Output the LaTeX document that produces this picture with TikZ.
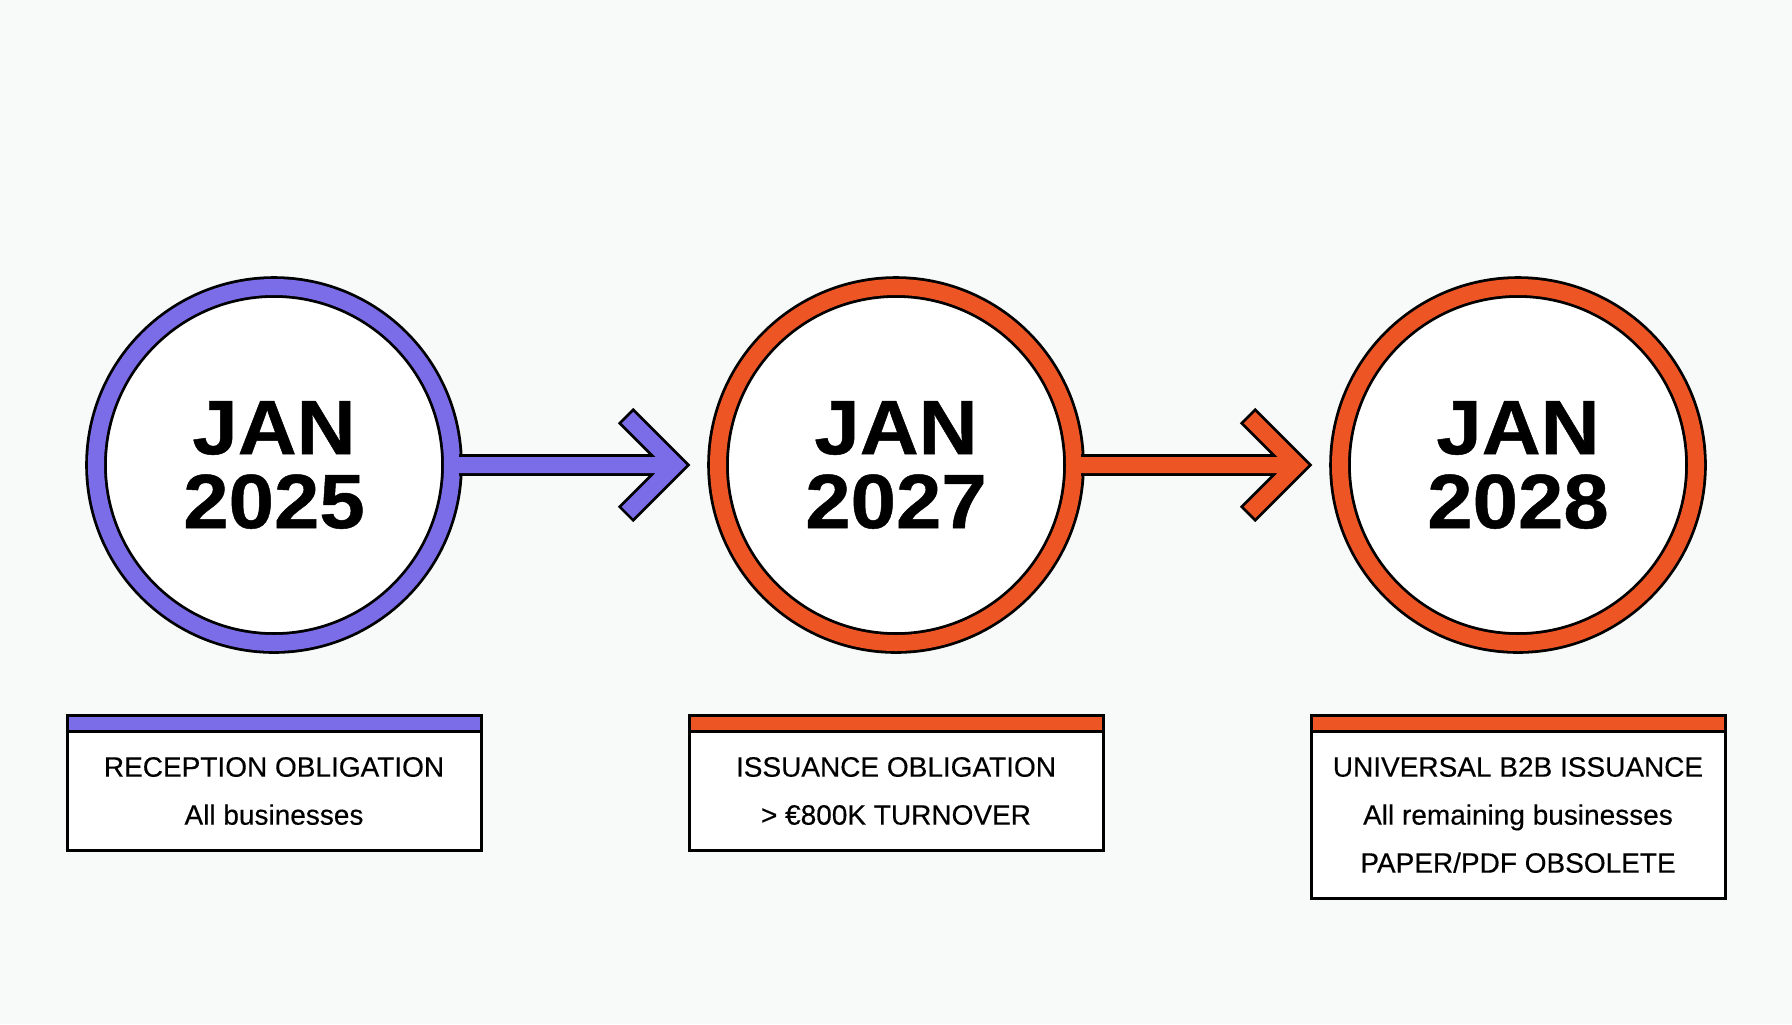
\documentclass[tikz,border=0pt]{standalone}
\usepackage{fontspec}
\setmainfont{Liberation Sans}
\newfontfamily\datefont[FakeStretch=1.06, FakeBold=0.6]{Liberation Sans Bold}
\newfontfamily\labelfont[FakeBold=0.35]{Liberation Sans}
\usetikzlibrary{positioning,calc}

\definecolor{bgwhite}{HTML}{F8F9F9}
\definecolor{tlpurple}{HTML}{7B6CE8}
\definecolor{tlorange}{HTML}{EE5524}

\tikzset{
  ring/.style={circle, draw=black, line width=1.4pt, double=#1, double distance=8pt, fill=white,
    minimum size=178pt, inner sep=0pt, outer sep=0pt, align=center,
    font=\fontsize{38.5pt}{37pt}\datefont},
  box/.style={rectangle, draw=black, line width=1.5pt, fill=white, minimum width=207pt, inner sep=0pt, outer sep=0pt},
  band/.style={draw=black, line width=1.5pt, fill=#1},
  boxtext/.style={align=center, inner sep=0pt, font=\fontsize{14pt}{24pt}\labelfont},
  arrowedge/.style={draw=black, line width=2.8pt, line join=miter},
}

\begin{document}
\begin{tikzpicture}[x=0.5pt,y=-0.5pt]
	\fill[bgwhite] (0,0) rectangle (1792,1024);
	\useasboundingbox (0,0) rectangle (1792,1024);

	% milestones
	\node [ring=tlpurple] (c25) at (274,465) {JAN\\2025};
	\node [ring=tlorange] (c27) at (896,465) {JAN\\2027};
	\node [ring=tlorange] (c28) at (1518,465) {JAN\\2028};

	% arrows between the circles
	\foreach \from/\col in {c25/tlpurple, c27/tlorange} {
	  \begin{scope}[shift={(\from.center)}]
	    \draw[arrowedge] (185,-8) -- (381.6,-8) -- (347.8,-41.8) -- (359.2,-53.2) -- (412.3,0)
	      -- (359.2,53.2) -- (347.8,41.8) -- (381.6,8) -- (185,8);
	    \fill[\col] (185,-8) -- (381.6,-8) -- (347.8,-41.8) -- (359.2,-53.2) -- (412.3,0)
	      -- (359.2,53.2) -- (347.8,41.8) -- (381.6,8) -- (185,8) -- cycle;
	  \end{scope}
	}

	% boxes
	\node [box, minimum height=67.5pt, below=36pt of c25] (b25) {};
	\node [box, minimum height=67.5pt, below=36pt of c27] (b27) {};
	\node [box, minimum height=91.5pt, below=36pt of c28] (b28) {};

	\draw[band=tlpurple] (b25.north west) rectangle ($(b25.north east)+(0,16)$);
	\draw[band=tlorange] (b27.north west) rectangle ($(b27.north east)+(0,16)$);
	\draw[band=tlorange] (b28.north west) rectangle ($(b28.north east)+(0,16)$);

	\node [boxtext] (t25) at ($(b25.center)+(0,8.5)$) {RECEPTION OBLIGATION\\All businesses};
	\node [boxtext] (t27) at ($(b27.center)+(0,8.5)$) {ISSUANCE OBLIGATION\\> €800K TURNOVER};
	\node [boxtext] (t28) at ($(b28.center)+(0,8.5)$) {UNIVERSAL B2B ISSUANCE\\All remaining businesses\\PAPER/PDF OBSOLETE};

\end{tikzpicture}
\end{document}
